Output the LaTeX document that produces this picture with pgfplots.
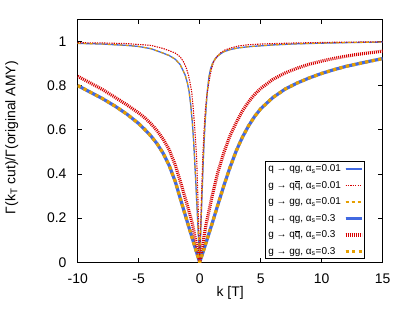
\documentclass[border=0pt]{standalone}
\usepackage{pgfplots}
\pgfplotsset{compat=1.18}
\usepackage{fontspec}
\setmainfont{Liberation Sans}
\definecolor{cblue}{RGB}{65,105,225}
\definecolor{cred}{RGB}{215,0,0}
\definecolor{corange}{RGB}{230,159,0}
\newcommand\qbar{{\setbox0\hbox{q}\rlap{\raisebox{\dimexpr\ht0+0.12em\relax}{\rule{\wd0}{0.06em}}}q}}
\begin{document}
\begin{tikzpicture}
\useasboundingbox (-77.7bp,-50.7bp) rectangle (329.3bp,262.3bp);
\begin{axis}[
  at={(0,0)}, anchor=south west,
  scale only axis, width=305bp, height=243bp,
  xmin=-10, xmax=15, ymin=0, ymax=1.1,
  xtick={-10,-5,0,5,10,15}, ytick={0,0.2,0.4,0.6,0.8,1},
  tick align=inside, major tick length=4.5bp,
  tick style={black, line width=0.6bp},
  axis line style={line width=0.8bp},
  /pgf/number format/assume math mode=true,
  ticklabel style={font=\fontsize{14}{16}\selectfont},
  xticklabel style={inner sep=0pt, anchor=north, yshift=-11bp},
  yticklabel style={inner sep=0pt, anchor=east, xshift=-11bp},
  xlabel={k [T]},
  xlabel style={at={(axis description cs:0.5,-0.1276)}, anchor=center, font=\fontsize{14}{16}\selectfont},
  ylabel={Γ(k\textsubscript{T} cut)/Γ(original AMY)},
  ylabel style={at={(axis description cs:-0.2164,0.513)}, anchor=center, font=\fontsize{14}{16}\selectfont},
  legend style={at={(0.94,0.0136)}, anchor=south east, draw=black, line width=0.6bp,
    font=\fontsize{10}{12}\selectfont, row sep=4bp, column sep=1bp, inner xsep=1bp, inner ysep=1bp},
  legend cell align=left,
  legend plot pos=right,
  legend image code/.code={\draw[#1] (0bp,0bp) -- (11bp,0bp); \path (0bp,0bp) -- (16bp,0bp);},
]
% alpha_s = 0.01, q -> qg
\addplot[cblue, line width=1.3bp] coordinates {
(-10,0.991) (-8,0.988) (-6,0.982) (-5,0.977) (-4,0.967) (-3,0.947) (-2.5,0.936) (-2,0.919)
(-1.6,0.895) (-1.2,0.849) (-1,0.810) (-0.87,0.773) (-0.75,0.720) (-0.6,0.630) (-0.5,0.550)
(-0.44,0.490) (-0.3,0.340) (-0.16,0.180) (-0.08,0.090) (0,0)
(0.05,0.080) (0.1,0.169) (0.2,0.320) (0.3,0.471) (0.43,0.622) (0.55,0.720) (0.62,0.773)
(0.7,0.810) (0.76,0.840) (0.9,0.877) (1.05,0.900) (1.25,0.920) (1.5,0.935) (1.93,0.952)
(2.5,0.963) (3.1,0.970) (4,0.976) (5,0.980) (6,0.984) (8,0.989) (10,0.992) (12.5,0.995) (15,0.997)};
\addlegendentry{q → qg, α\textsubscript{s}=0.01}
% alpha_s = 0.01, g -> q qbar
\addplot[cred, line width=1.1bp, dash pattern=on 1.3bp off 1.1bp] coordinates {
(-10,0.994) (-8,0.993) (-6,0.990) (-4,0.982) (-3,0.968) (-2.5,0.958) (-2,0.947) (-1.6,0.930)
(-1.34,0.909) (-1.1,0.880) (-0.93,0.849) (-0.8,0.815) (-0.66,0.773) (-0.55,0.710) (-0.44,0.635)
(-0.35,0.560) (-0.25,0.471) (-0.15,0.300) (-0.07,0.140) (0,0)
(0.07,0.140) (0.15,0.300) (0.25,0.471) (0.35,0.590) (0.45,0.680) (0.55,0.740) (0.7,0.796)
(0.85,0.845) (0.98,0.879) (1.15,0.908) (1.39,0.930) (1.7,0.948) (2.07,0.961) (2.6,0.971)
(3.16,0.979) (4,0.985) (5,0.988) (6,0.990) (8,0.993) (11,0.996) (15,0.998)};
\addlegendentry{g → q\qbar, α\textsubscript{s}=0.01}
% alpha_s = 0.01, g -> gg
\addplot[corange, line width=1.1bp, dash pattern=on 3bp off 3bp] coordinates {
(-10,0.991) (-8,0.988) (-6,0.982) (-5,0.977) (-4,0.967) (-3,0.947) (-2.5,0.936) (-2,0.919)
(-1.6,0.895) (-1.2,0.849) (-1,0.810) (-0.87,0.773) (-0.75,0.720) (-0.6,0.630) (-0.5,0.550)
(-0.44,0.490) (-0.3,0.340) (-0.16,0.180) (-0.08,0.090) (0,0)
(0.05,0.080) (0.1,0.169) (0.2,0.320) (0.3,0.471) (0.43,0.622) (0.55,0.720) (0.62,0.773)
(0.7,0.810) (0.76,0.840) (0.9,0.877) (1.05,0.900) (1.25,0.920) (1.5,0.935) (1.93,0.952)
(2.5,0.963) (3.1,0.970) (4,0.976) (5,0.980) (6,0.984) (8,0.989) (10,0.992) (12.5,0.995) (15,0.997)};
\addlegendentry{g → gg, α\textsubscript{s}=0.01}
% alpha_s = 0.3, q -> qg
\addplot[cblue, line width=3.2bp] coordinates {
(-10,0.800) (-9,0.771) (-8,0.742) (-7,0.709) (-6,0.672) (-5,0.628) (-4.5,0.601) (-4,0.572)
(-3.5,0.537) (-3,0.494) (-2.5,0.438) (-2,0.365) (-1.5,0.272) (-1,0.180) (-0.5,0.089) (-0.25,0.044)
(0,0) (0.25,0.042) (0.5,0.085) (1,0.172) (1.5,0.262) (2,0.350) (2.5,0.432) (3,0.505) (3.5,0.566)
(4,0.617) (4.5,0.660) (5,0.695) (6,0.746) (7,0.784) (8,0.812) (9,0.835) (10,0.855) (11,0.872)
(12,0.887) (13,0.899) (14,0.911) (15,0.922)};
\addlegendentry{q → qg, α\textsubscript{s}=0.3}
% alpha_s = 0.3, g -> q qbar
\addplot[cred, line width=3.2bp, dash pattern=on 1bp off 1bp] coordinates {
(-10,0.842) (-9,0.813) (-8,0.783) (-7,0.749) (-6,0.714) (-5,0.676) (-4.5,0.654) (-4,0.628)
(-3.5,0.596) (-3,0.558) (-2.5,0.510) (-2,0.440) (-1.5,0.350) (-1,0.255) (-0.6,0.175) (-0.3,0.090)
(0,0) (0.25,0.080) (0.5,0.165) (1,0.295) (1.5,0.410) (2,0.500) (2.5,0.575) (3,0.633) (3.5,0.685)
(4,0.726) (4.5,0.760) (5,0.787) (6,0.828) (7,0.857) (8,0.879) (9,0.897) (10,0.911) (11,0.923)
(12,0.933) (13,0.942) (14,0.949) (15,0.956)};
\addlegendentry{g → q\qbar, α\textsubscript{s}=0.3}
% alpha_s = 0.3, g -> gg
\addplot[corange, line width=3.2bp, dash pattern=on 3.3bp off 3.3bp] coordinates {
(-10,0.800) (-9,0.771) (-8,0.742) (-7,0.709) (-6,0.672) (-5,0.628) (-4.5,0.601) (-4,0.572)
(-3.5,0.537) (-3,0.494) (-2.5,0.438) (-2,0.365) (-1.5,0.272) (-1,0.180) (-0.5,0.089) (-0.25,0.044)
(0,0) (0.25,0.042) (0.5,0.085) (1,0.172) (1.5,0.262) (2,0.350) (2.5,0.432) (3,0.505) (3.5,0.566)
(4,0.617) (4.5,0.660) (5,0.695) (6,0.746) (7,0.784) (8,0.812) (9,0.835) (10,0.855) (11,0.872)
(12,0.887) (13,0.899) (14,0.911) (15,0.922)};
\addlegendentry{g → gg, α\textsubscript{s}=0.3}
\end{axis}
\end{tikzpicture}
\end{document}
